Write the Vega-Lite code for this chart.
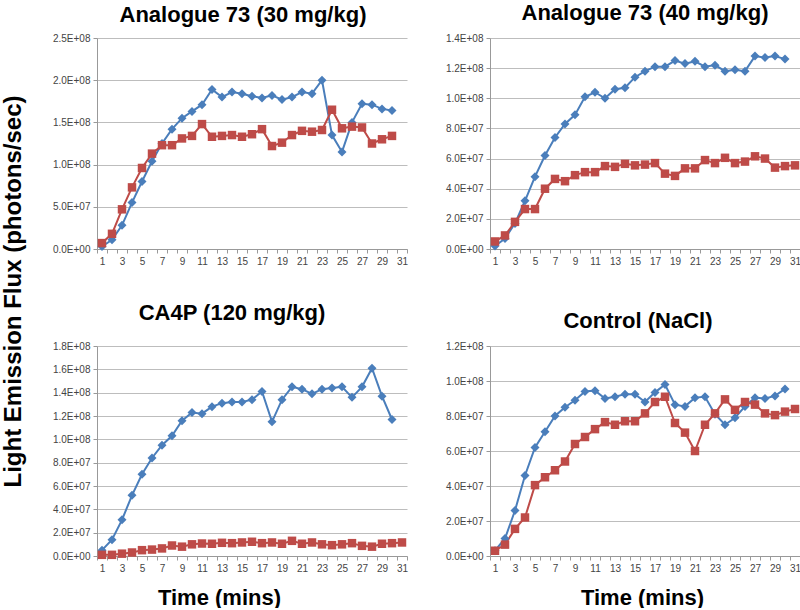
{
  "$schema": "https://vega.github.io/schema/vega-lite/v6.json",
  "padding": {"left": 0, "top": 2, "right": 0, "bottom": 0},
  "bounds": "flush",
  "columns": 2,
  "spacing": {"row": 97, "column": 83},
  "datasets": {
    "a30": [
      {"t":1,"s":"Series 1","v":3e6},{"t":2,"s":"Series 1","v":1.1e7},{"t":3,"s":"Series 1","v":2.8e7},{"t":4,"s":"Series 1","v":5.5e7},{"t":5,"s":"Series 1","v":8.0e7},{"t":6,"s":"Series 1","v":1.04e8},{"t":7,"s":"Series 1","v":1.25e8},{"t":8,"s":"Series 1","v":1.42e8},{"t":9,"s":"Series 1","v":1.55e8},{"t":10,"s":"Series 1","v":1.63e8},{"t":11,"s":"Series 1","v":1.71e8},{"t":12,"s":"Series 1","v":1.89e8},{"t":13,"s":"Series 1","v":1.80e8},{"t":14,"s":"Series 1","v":1.86e8},{"t":15,"s":"Series 1","v":1.84e8},{"t":16,"s":"Series 1","v":1.81e8},{"t":17,"s":"Series 1","v":1.79e8},{"t":18,"s":"Series 1","v":1.82e8},{"t":19,"s":"Series 1","v":1.77e8},{"t":20,"s":"Series 1","v":1.80e8},{"t":21,"s":"Series 1","v":1.86e8},{"t":22,"s":"Series 1","v":1.84e8},{"t":23,"s":"Series 1","v":2.00e8},{"t":24,"s":"Series 1","v":1.35e8},{"t":25,"s":"Series 1","v":1.15e8},{"t":26,"s":"Series 1","v":1.50e8},{"t":27,"s":"Series 1","v":1.72e8},{"t":28,"s":"Series 1","v":1.71e8},{"t":29,"s":"Series 1","v":1.66e8},{"t":30,"s":"Series 1","v":1.64e8},
      {"t":1,"s":"Series 2","v":7e6},{"t":2,"s":"Series 2","v":1.8e7},{"t":3,"s":"Series 2","v":4.7e7},{"t":4,"s":"Series 2","v":7.3e7},{"t":5,"s":"Series 2","v":9.6e7},{"t":6,"s":"Series 2","v":1.13e8},{"t":7,"s":"Series 2","v":1.23e8},{"t":8,"s":"Series 2","v":1.23e8},{"t":9,"s":"Series 2","v":1.31e8},{"t":10,"s":"Series 2","v":1.34e8},{"t":11,"s":"Series 2","v":1.48e8},{"t":12,"s":"Series 2","v":1.33e8},{"t":13,"s":"Series 2","v":1.34e8},{"t":14,"s":"Series 2","v":1.35e8},{"t":15,"s":"Series 2","v":1.33e8},{"t":16,"s":"Series 2","v":1.36e8},{"t":17,"s":"Series 2","v":1.42e8},{"t":18,"s":"Series 2","v":1.22e8},{"t":19,"s":"Series 2","v":1.26e8},{"t":20,"s":"Series 2","v":1.35e8},{"t":21,"s":"Series 2","v":1.40e8},{"t":22,"s":"Series 2","v":1.39e8},{"t":23,"s":"Series 2","v":1.41e8},{"t":24,"s":"Series 2","v":1.65e8},{"t":25,"s":"Series 2","v":1.43e8},{"t":26,"s":"Series 2","v":1.45e8},{"t":27,"s":"Series 2","v":1.44e8},{"t":28,"s":"Series 2","v":1.25e8},{"t":29,"s":"Series 2","v":1.30e8},{"t":30,"s":"Series 2","v":1.34e8}
    ],
    "a40": [
      {"t":1,"s":"Series 1","v":2e6},{"t":2,"s":"Series 1","v":7e6},{"t":3,"s":"Series 1","v":1.7e7},{"t":4,"s":"Series 1","v":3.2e7},{"t":5,"s":"Series 1","v":4.8e7},{"t":6,"s":"Series 1","v":6.2e7},{"t":7,"s":"Series 1","v":7.4e7},{"t":8,"s":"Series 1","v":8.3e7},{"t":9,"s":"Series 1","v":8.9e7},{"t":10,"s":"Series 1","v":1.01e8},{"t":11,"s":"Series 1","v":1.04e8},{"t":12,"s":"Series 1","v":1.0e8},{"t":13,"s":"Series 1","v":1.06e8},{"t":14,"s":"Series 1","v":1.07e8},{"t":15,"s":"Series 1","v":1.14e8},{"t":16,"s":"Series 1","v":1.18e8},{"t":17,"s":"Series 1","v":1.21e8},{"t":18,"s":"Series 1","v":1.21e8},{"t":19,"s":"Series 1","v":1.25e8},{"t":20,"s":"Series 1","v":1.23e8},{"t":21,"s":"Series 1","v":1.245e8},{"t":22,"s":"Series 1","v":1.21e8},{"t":23,"s":"Series 1","v":1.22e8},{"t":24,"s":"Series 1","v":1.18e8},{"t":25,"s":"Series 1","v":1.19e8},{"t":26,"s":"Series 1","v":1.18e8},{"t":27,"s":"Series 1","v":1.28e8},{"t":28,"s":"Series 1","v":1.27e8},{"t":29,"s":"Series 1","v":1.28e8},{"t":30,"s":"Series 1","v":1.26e8},
      {"t":1,"s":"Series 2","v":5e6},{"t":2,"s":"Series 2","v":9e6},{"t":3,"s":"Series 2","v":1.8e7},{"t":4,"s":"Series 2","v":2.65e7},{"t":5,"s":"Series 2","v":2.65e7},{"t":6,"s":"Series 2","v":4.0e7},{"t":7,"s":"Series 2","v":4.65e7},{"t":8,"s":"Series 2","v":4.5e7},{"t":9,"s":"Series 2","v":4.9e7},{"t":10,"s":"Series 2","v":5.1e7},{"t":11,"s":"Series 2","v":5.1e7},{"t":12,"s":"Series 2","v":5.5e7},{"t":13,"s":"Series 2","v":5.45e7},{"t":14,"s":"Series 2","v":5.65e7},{"t":15,"s":"Series 2","v":5.55e7},{"t":16,"s":"Series 2","v":5.6e7},{"t":17,"s":"Series 2","v":5.7e7},{"t":18,"s":"Series 2","v":5.0e7},{"t":19,"s":"Series 2","v":4.85e7},{"t":20,"s":"Series 2","v":5.35e7},{"t":21,"s":"Series 2","v":5.35e7},{"t":22,"s":"Series 2","v":5.9e7},{"t":23,"s":"Series 2","v":5.7e7},{"t":24,"s":"Series 2","v":6.05e7},{"t":25,"s":"Series 2","v":5.7e7},{"t":26,"s":"Series 2","v":5.8e7},{"t":27,"s":"Series 2","v":6.15e7},{"t":28,"s":"Series 2","v":6.0e7},{"t":29,"s":"Series 2","v":5.4e7},{"t":30,"s":"Series 2","v":5.5e7},{"t":31,"s":"Series 2","v":5.55e7}
    ],
    "ca4p": [
      {"t":1,"s":"Series 1","v":5e6},{"t":2,"s":"Series 1","v":1.4e7},{"t":3,"s":"Series 1","v":3.1e7},{"t":4,"s":"Series 1","v":5.2e7},{"t":5,"s":"Series 1","v":7.0e7},{"t":6,"s":"Series 1","v":8.4e7},{"t":7,"s":"Series 1","v":9.5e7},{"t":8,"s":"Series 1","v":1.03e8},{"t":9,"s":"Series 1","v":1.16e8},{"t":10,"s":"Series 1","v":1.23e8},{"t":11,"s":"Series 1","v":1.22e8},{"t":12,"s":"Series 1","v":1.28e8},{"t":13,"s":"Series 1","v":1.31e8},{"t":14,"s":"Series 1","v":1.32e8},{"t":15,"s":"Series 1","v":1.32e8},{"t":16,"s":"Series 1","v":1.34e8},{"t":17,"s":"Series 1","v":1.41e8},{"t":18,"s":"Series 1","v":1.15e8},{"t":19,"s":"Series 1","v":1.34e8},{"t":20,"s":"Series 1","v":1.45e8},{"t":21,"s":"Series 1","v":1.43e8},{"t":22,"s":"Series 1","v":1.39e8},{"t":23,"s":"Series 1","v":1.43e8},{"t":24,"s":"Series 1","v":1.44e8},{"t":25,"s":"Series 1","v":1.45e8},{"t":26,"s":"Series 1","v":1.36e8},{"t":27,"s":"Series 1","v":1.45e8},{"t":28,"s":"Series 1","v":1.61e8},{"t":29,"s":"Series 1","v":1.37e8},{"t":30,"s":"Series 1","v":1.17e8},
      {"t":1,"s":"Series 2","v":1e6},{"t":2,"s":"Series 2","v":1e6},{"t":3,"s":"Series 2","v":2e6},{"t":4,"s":"Series 2","v":3e6},{"t":5,"s":"Series 2","v":5e6},{"t":6,"s":"Series 2","v":5.5e6},{"t":7,"s":"Series 2","v":6.5e6},{"t":8,"s":"Series 2","v":9e6},{"t":9,"s":"Series 2","v":8e6},{"t":10,"s":"Series 2","v":1.0e7},{"t":11,"s":"Series 2","v":1.07e7},{"t":12,"s":"Series 2","v":1.05e7},{"t":13,"s":"Series 2","v":1.13e7},{"t":14,"s":"Series 2","v":1.1e7},{"t":15,"s":"Series 2","v":1.16e7},{"t":16,"s":"Series 2","v":1.22e7},{"t":17,"s":"Series 2","v":1.1e7},{"t":18,"s":"Series 2","v":1.16e7},{"t":19,"s":"Series 2","v":1.05e7},{"t":20,"s":"Series 2","v":1.3e7},{"t":21,"s":"Series 2","v":1.05e7},{"t":22,"s":"Series 2","v":1.16e7},{"t":23,"s":"Series 2","v":1.0e7},{"t":24,"s":"Series 2","v":9.3e6},{"t":25,"s":"Series 2","v":1.0e7},{"t":26,"s":"Series 2","v":1.1e7},{"t":27,"s":"Series 2","v":8.7e6},{"t":28,"s":"Series 2","v":8e6},{"t":29,"s":"Series 2","v":1.05e7},{"t":30,"s":"Series 2","v":1.1e7},{"t":31,"s":"Series 2","v":1.16e7}
    ],
    "ctrl": [
      {"t":1,"s":"Series 1","v":3e6},{"t":2,"s":"Series 1","v":1.0e7},{"t":3,"s":"Series 1","v":2.6e7},{"t":4,"s":"Series 1","v":4.6e7},{"t":5,"s":"Series 1","v":6.2e7},{"t":6,"s":"Series 1","v":7.1e7},{"t":7,"s":"Series 1","v":8.0e7},{"t":8,"s":"Series 1","v":8.5e7},{"t":9,"s":"Series 1","v":8.9e7},{"t":10,"s":"Series 1","v":9.4e7},{"t":11,"s":"Series 1","v":9.45e7},{"t":12,"s":"Series 1","v":9.0e7},{"t":13,"s":"Series 1","v":9.1e7},{"t":14,"s":"Series 1","v":9.25e7},{"t":15,"s":"Series 1","v":9.25e7},{"t":16,"s":"Series 1","v":8.8e7},{"t":17,"s":"Series 1","v":9.35e7},{"t":18,"s":"Series 1","v":9.8e7},{"t":19,"s":"Series 1","v":8.65e7},{"t":20,"s":"Series 1","v":8.55e7},{"t":21,"s":"Series 1","v":9.05e7},{"t":22,"s":"Series 1","v":9.1e7},{"t":23,"s":"Series 1","v":8.1e7},{"t":24,"s":"Series 1","v":7.5e7},{"t":25,"s":"Series 1","v":7.9e7},{"t":26,"s":"Series 1","v":8.55e7},{"t":27,"s":"Series 1","v":9.05e7},{"t":28,"s":"Series 1","v":9.0e7},{"t":29,"s":"Series 1","v":9.15e7},{"t":30,"s":"Series 1","v":9.55e7},
      {"t":1,"s":"Series 2","v":3e6},{"t":2,"s":"Series 2","v":6.5e6},{"t":3,"s":"Series 2","v":1.55e7},{"t":4,"s":"Series 2","v":2.2e7},{"t":5,"s":"Series 2","v":4.05e7},{"t":6,"s":"Series 2","v":4.5e7},{"t":7,"s":"Series 2","v":4.9e7},{"t":8,"s":"Series 2","v":5.4e7},{"t":9,"s":"Series 2","v":6.4e7},{"t":10,"s":"Series 2","v":6.8e7},{"t":11,"s":"Series 2","v":7.25e7},{"t":12,"s":"Series 2","v":7.65e7},{"t":13,"s":"Series 2","v":7.5e7},{"t":14,"s":"Series 2","v":7.7e7},{"t":15,"s":"Series 2","v":7.7e7},{"t":16,"s":"Series 2","v":8.15e7},{"t":17,"s":"Series 2","v":8.8e7},{"t":18,"s":"Series 2","v":9.1e7},{"t":19,"s":"Series 2","v":7.6e7},{"t":20,"s":"Series 2","v":7.05e7},{"t":21,"s":"Series 2","v":6.0e7},{"t":22,"s":"Series 2","v":7.5e7},{"t":23,"s":"Series 2","v":8.15e7},{"t":24,"s":"Series 2","v":8.95e7},{"t":25,"s":"Series 2","v":8.35e7},{"t":26,"s":"Series 2","v":8.8e7},{"t":27,"s":"Series 2","v":8.65e7},{"t":28,"s":"Series 2","v":8.15e7},{"t":29,"s":"Series 2","v":8.05e7},{"t":30,"s":"Series 2","v":8.25e7},{"t":31,"s":"Series 2","v":8.4e7}
    ]
  },
  "concat": [
    {
      "data": {"name": "a30"},
      "width": 310, "height": 211,
      "title": {"text": "Analogue 73 (30 mg/kg)", "anchor": "middle", "dx": -9, "offset": -11, "baseline": "alphabetic", "fontSize": 22, "font": "Liberation Sans", "fontWeight": "bold", "color": "#000"},
      "encoding": {
        "x": {"field": "t", "type": "ordinal", "scale": {"type": "band", "domain": [1,2,3,4,5,6,7,8,9,10,11,12,13,14,15,16,17,18,19,20,21,22,23,24,25,26,27,28,29,30,31], "paddingInner": 0, "paddingOuter": 0},
              "axis": {"title": null, "tickBand": "extent", "labelAngle": 0, "labelOverlap": false, "labelExpr": "datum.value % 2 == 1 ? datum.label : ''"}},
        "y": {"field": "v", "type": "quantitative", "scale": {"domain": [0, 250000000], "nice": false},
              "axis": {"values": [0, 50000000, 100000000, 150000000, 200000000, 250000000], "labelExpr": "replace(upper(format(datum.value, '.1e')), regexp('E[+]([0-9])$'), 'E+0$1')",
                       "title": "Light Emission Flux (photons/sec)", "titleFontSize": 24, "titleX": -77, "titleY": 253, "titleBaseline": "alphabetic", "titleAngle": -90}},
        "color": {"field": "s", "type": "nominal", "scale": {"domain": ["Series 1", "Series 2"], "range": ["#4A7EBB", "#BE4B48"]}, "legend": null}
      },
      "layer": [
        {"mark": {"type": "line", "strokeWidth": 2}},
        {"mark": {"type": "point", "filled": true, "opacity": 1}, "encoding": {
          "shape": {"field": "s", "type": "nominal", "scale": {"domain": ["Series 1", "Series 2"], "range": ["diamond", "square"]}, "legend": null},
          "size": {"field": "s", "type": "nominal", "scale": {"domain": ["Series 1", "Series 2"], "range": [81, 72]}, "legend": null}}}
      ]
    },
    {
      "data": {"name": "a40"},
      "width": 310, "height": 211,
      "title": {"text": "Analogue 73 (40 mg/kg)", "anchor": "middle", "dx": 0, "offset": -9, "baseline": "alphabetic", "fontSize": 22, "font": "Liberation Sans", "fontWeight": "bold", "color": "#000"},
      "encoding": {
        "x": {"field": "t", "type": "ordinal", "scale": {"type": "band", "domain": [1,2,3,4,5,6,7,8,9,10,11,12,13,14,15,16,17,18,19,20,21,22,23,24,25,26,27,28,29,30,31], "paddingInner": 0, "paddingOuter": 0},
              "axis": {"title": null, "tickBand": "extent", "labelAngle": 0, "labelOverlap": false, "labelExpr": "datum.value % 2 == 1 ? datum.label : ''"}},
        "y": {"field": "v", "type": "quantitative", "scale": {"domain": [0, 140000000], "nice": false},
              "axis": {"values": [0, 20000000, 40000000, 60000000, 80000000, 100000000, 120000000, 140000000], "labelExpr": "replace(upper(format(datum.value, '.1e')), regexp('E[+]([0-9])$'), 'E+0$1')", "title": null}},
        "color": {"field": "s", "type": "nominal", "scale": {"domain": ["Series 1", "Series 2"], "range": ["#4A7EBB", "#BE4B48"]}, "legend": null}
      },
      "layer": [
        {"mark": {"type": "line", "strokeWidth": 2}},
        {"mark": {"type": "point", "filled": true, "opacity": 1}, "encoding": {
          "shape": {"field": "s", "type": "nominal", "scale": {"domain": ["Series 1", "Series 2"], "range": ["diamond", "square"]}, "legend": null},
          "size": {"field": "s", "type": "nominal", "scale": {"domain": ["Series 1", "Series 2"], "range": [81, 72]}, "legend": null}}}
      ]
    },
    {
      "data": {"name": "ca4p"},
      "width": 310, "height": 210,
      "title": {"text": "CA4P (120 mg/kg)", "anchor": "middle", "dx": -20, "offset": -1, "baseline": "alphabetic", "fontSize": 22, "font": "Liberation Sans", "fontWeight": "bold", "color": "#000"},
      "encoding": {
        "x": {"field": "t", "type": "ordinal", "scale": {"type": "band", "domain": [1,2,3,4,5,6,7,8,9,10,11,12,13,14,15,16,17,18,19,20,21,22,23,24,25,26,27,28,29,30,31], "paddingInner": 0, "paddingOuter": 0},
              "axis": {"title": "Time (mins)", "titleFontSize": 22, "titleX": 122, "titleY": 48, "titleBaseline": "alphabetic", "tickBand": "extent", "labelAngle": 0, "labelOverlap": false, "labelExpr": "datum.value % 2 == 1 ? datum.label : ''"}},
        "y": {"field": "v", "type": "quantitative", "scale": {"domain": [0, 180000000], "nice": false},
              "axis": {"values": [0, 20000000, 40000000, 60000000, 80000000, 100000000, 120000000, 140000000, 160000000, 180000000], "labelExpr": "replace(upper(format(datum.value, '.1e')), regexp('E[+]([0-9])$'), 'E+0$1')", "title": null}},
        "color": {"field": "s", "type": "nominal", "scale": {"domain": ["Series 1", "Series 2"], "range": ["#4A7EBB", "#BE4B48"]}, "legend": null}
      },
      "layer": [
        {"mark": {"type": "line", "strokeWidth": 2}},
        {"mark": {"type": "point", "filled": true, "opacity": 1}, "encoding": {
          "shape": {"field": "s", "type": "nominal", "scale": {"domain": ["Series 1", "Series 2"], "range": ["diamond", "square"]}, "legend": null},
          "size": {"field": "s", "type": "nominal", "scale": {"domain": ["Series 1", "Series 2"], "range": [81, 72]}, "legend": null}}}
      ]
    },
    {
      "data": {"name": "ctrl"},
      "width": 310, "height": 210,
      "title": {"text": "Control (NaCl)", "anchor": "middle", "dx": -7, "offset": -9, "baseline": "alphabetic", "fontSize": 22, "font": "Liberation Sans", "fontWeight": "bold", "color": "#000"},
      "encoding": {
        "x": {"field": "t", "type": "ordinal", "scale": {"type": "band", "domain": [1,2,3,4,5,6,7,8,9,10,11,12,13,14,15,16,17,18,19,20,21,22,23,24,25,26,27,28,29,30,31], "paddingInner": 0, "paddingOuter": 0},
              "axis": {"title": "Time (mins)", "titleFontSize": 22, "titleX": 152, "titleY": 48, "titleBaseline": "alphabetic", "tickBand": "extent", "labelAngle": 0, "labelOverlap": false, "labelExpr": "datum.value % 2 == 1 ? datum.label : ''"}},
        "y": {"field": "v", "type": "quantitative", "scale": {"domain": [0, 120000000], "nice": false},
              "axis": {"values": [0, 20000000, 40000000, 60000000, 80000000, 100000000, 120000000], "labelExpr": "replace(upper(format(datum.value, '.1e')), regexp('E[+]([0-9])$'), 'E+0$1')", "title": null}},
        "color": {"field": "s", "type": "nominal", "scale": {"domain": ["Series 1", "Series 2"], "range": ["#4A7EBB", "#BE4B48"]}, "legend": null}
      },
      "layer": [
        {"mark": {"type": "line", "strokeWidth": 2}},
        {"mark": {"type": "point", "filled": true, "opacity": 1}, "encoding": {
          "shape": {"field": "s", "type": "nominal", "scale": {"domain": ["Series 1", "Series 2"], "range": ["diamond", "square"]}, "legend": null},
          "size": {"field": "s", "type": "nominal", "scale": {"domain": ["Series 1", "Series 2"], "range": [81, 72]}, "legend": null}}}
      ]
    }
  ],
  "config": {
    "view": {"stroke": null},
    "font": "Liberation Sans",
    "axis": {"labelFont": "Liberation Sans", "labelFontSize": 10, "labelColor": "#444", "domainColor": "#999", "tickColor": "#999", "tickSize": 4, "labelPadding": 3, "gridColor": "#bdbdbd", "titleFont": "Liberation Sans", "titleFontWeight": "bold", "titleColor": "#000"},
    "axisX": {"grid": false},
    "axisY": {"grid": true}
  }
}
